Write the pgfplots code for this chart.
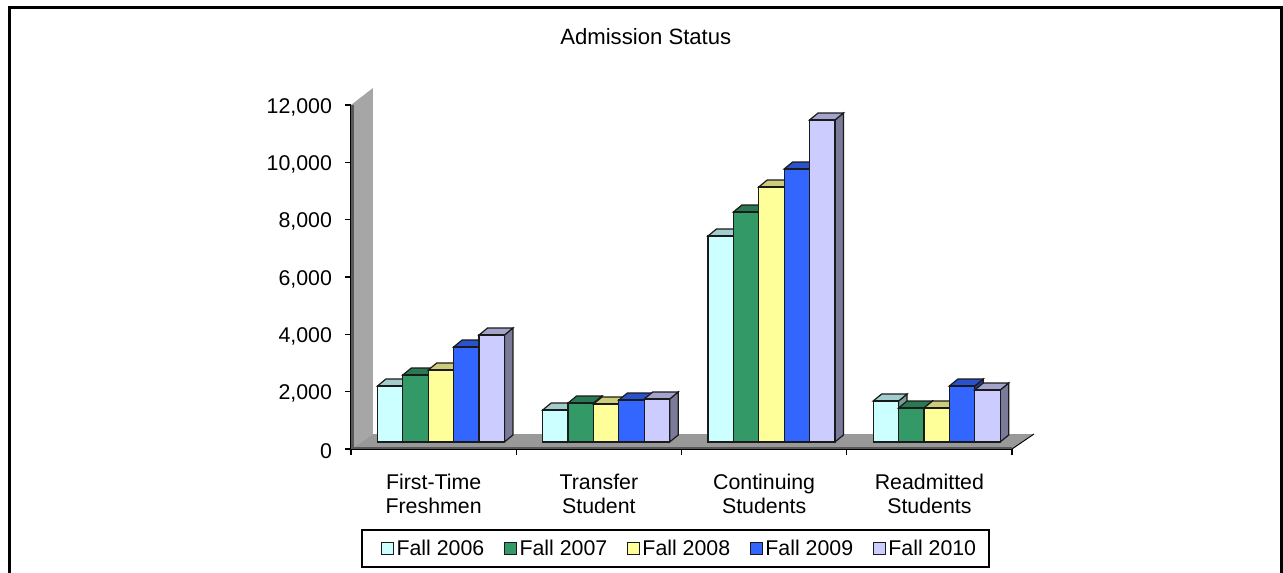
\documentclass[border=0pt]{standalone}
\usepackage{pgfplots}
\pgfplotsset{compat=1.18}
\usepackage{fontspec}
\setmainfont{Liberation Sans}
\definecolor{aF}{HTML}{CCFFFF}\definecolor{aT}{HTML}{A3CCCC}\definecolor{aS}{HTML}{7A9999}
\definecolor{bF}{HTML}{339966}\definecolor{bT}{HTML}{297A52}\definecolor{bS}{HTML}{1F5C3D}
\definecolor{cF}{HTML}{FFFF99}\definecolor{cT}{HTML}{CCCC7A}\definecolor{cS}{HTML}{99995C}
\definecolor{dF}{HTML}{3366FF}\definecolor{dT}{HTML}{2952CC}\definecolor{dS}{HTML}{1F3D99}
\definecolor{eF}{HTML}{CCCCFF}\definecolor{eT}{HTML}{A3A3CC}\definecolor{eS}{HTML}{7A7A99}
\definecolor{edge}{HTML}{1A1A1A}
\newcommand\lab{\fontsize{16}{18}\selectfont}
% #1 prefix of the colours, #2 top, #3 side, #4 offset in px, #5 category x, #6 value
\newcommand\barfaces[6]{%
  \pgfmathsetmacro\xL{#5+(#4-12.7)/165.25}%
  \pgfmathsetmacro\xR{#5+(#4+12.7)/165.25}%
  \pgfmathsetmacro\xLb{\xL+8.5/165.25}%
  \pgfmathsetmacro\xRb{\xR+8.5/165.25}%
  \pgfmathsetmacro\yf{#6+244}%
  \pgfmathsetmacro\yb{#6+488}%
  \edef\tmp{%
    \noexpand\addplot[forget plot,fill=#3,draw=edge,line width=.9pt] coordinates {(\xR,244) (\xRb,488) (\xRb,\yb) (\xR,\yf)} -- cycle;
    \noexpand\addplot[forget plot,fill=#2,draw=edge,line width=.9pt] coordinates {(\xL,\yf) (\xLb,\yb) (\xRb,\yb) (\xR,\yf)} -- cycle;
  }\tmp}
% #1 front, #2 top, #3 side, #4 offset px, #5 bar shift, #6-#9 values
\newcommand\series[9]{%
  \barfaces{#1}{#2}{#3}{#4}{0.5}{#6}%
  \barfaces{#1}{#2}{#3}{#4}{1.5}{#7}%
  \barfaces{#1}{#2}{#3}{#4}{2.5}{#8}%
  \barfaces{#1}{#2}{#3}{#4}{3.5}{#9}%
  \addplot[forget plot,ybar,bar width=19.05pt,bar shift=#5,yshift=5.25pt,fill=#1,draw=edge,line width=.9pt]
    coordinates {(0.5,#6) (1.5,#7) (2.5,#8) (3.5,#9)};
}
\begin{document}
\begin{tikzpicture}
\fill[white,use as bounding box] (0,0) rectangle (962.25pt,-429.75pt);
\begin{scope}[x=.75pt,y=-.75pt]
\draw[black,line width=1.8pt] (9.5,573) -- (9.5,7.5) -- (1281.5,7.5) -- (1281.5,573);
\end{scope}
\begin{axis}[
  at={(263.25pt,-336.75pt)},anchor=south west,
  scale only axis,width=495.75pt,height=258pt,
  clip=false,
  xmin=0,xmax=4,ymin=0,ymax=12000,
  axis x line=bottom,axis y line=left,
  axis line style={-,black,line width=.9pt},
  tick style={black,line width=.9pt},
  tick align=outside,
  major tick length=4.5pt,
  xtick={0,1,2,3,4},xticklabels={},
  extra x ticks={0.5,1.5,2.5,3.5},
  extra x tick labels={{First-Time\\Freshmen},{Transfer\\Student},{Continuing\\Students},{Readmitted\\Students}},
  extra x tick style={major tick length=0pt},
  xticklabel style={align=center,font=\lab,yshift=-15.2pt},
  ytick={0,2000,4000,6000,8000,10000,12000},
  scaled y ticks=false,
  yticklabel style={font=\lab,xshift=-6.25pt,yshift=-1.5pt},
  /pgf/number format/assume math mode=true,
  /pgf/number format/fixed,
  /pgf/number format/1000 sep={,},
  title={Admission Status},
  title style={font=\fontsize{16.6}{18}\selectfont,at={(0.446,1.175)},anchor=center,inner sep=0pt},
  legend columns=5,
  legend cell align=left,
  legend style={at={(0.491,-0.2892)},anchor=center,draw=black,line width=1.3pt,font=\lab,
    /tikz/every even column/.append style={column sep=12.5pt},
    inner xsep=7.9pt,inner ysep=5.2pt},
  legend image code/.code={\draw[#1,line width=.9pt] (0pt,-4.5pt) rectangle (9pt,4.5pt);},
]
\addlegendimage{fill=aF,draw=edge,legend image code/.code={\path[draw=none,fill=none] (-6.75pt,0pt) -- (0pt,0pt);\draw[##1,line width=.9pt] (0pt,-4.5pt) rectangle (9pt,4.5pt);}}\addlegendentry{Fall 2006}
\addlegendimage{fill=bF,draw=edge}\addlegendentry{Fall 2007}
\addlegendimage{fill=cF,draw=edge}\addlegendentry{Fall 2008}
\addlegendimage{fill=dF,draw=edge}\addlegendentry{Fall 2009}
\addlegendimage{fill=eF,draw=edge}\addlegendentry{Fall 2010}
% wall and floor
\addplot[forget plot,fill=black!35,draw=none] coordinates {(0,0) (0,12000) (0.1331,12593) (0.1331,523)} -- cycle;
\addplot[forget plot,fill=black!40,draw=none] coordinates {(0,0) (4,0) (4.1331,523) (0.1331,523)} -- cycle;
\addplot[forget plot,fill=black!65,draw=none] coordinates {(0,0) (0.018,0) (0.018,12000) (0,12000)} -- cycle;
\addplot[forget plot,fill=black!65,draw=none] coordinates {(0,0) (4,0) (4,70) (0,70)} -- cycle;
\addplot[forget plot,black,line width=.7pt] coordinates {(4,0) (4.1331,523)};
% series
\series{aF}{aT}{aS}{-43.5}{-32.625pt}{1953}{1116}{7185}{1430}
\series{bF}{bT}{bS}{-18.1}{-13.575pt}{2337}{1360}{8022}{1186}
\series{cF}{cT}{cS}{7.3}{5.475pt}{2511}{1325}{8895}{1186}
\series{dF}{dT}{dS}{32.7}{24.525pt}{3314}{1465}{9523}{1953}
\series{eF}{eT}{eS}{58.1}{43.575pt}{3732}{1500}{11232}{1814}
\end{axis}
\end{tikzpicture}
\end{document}
